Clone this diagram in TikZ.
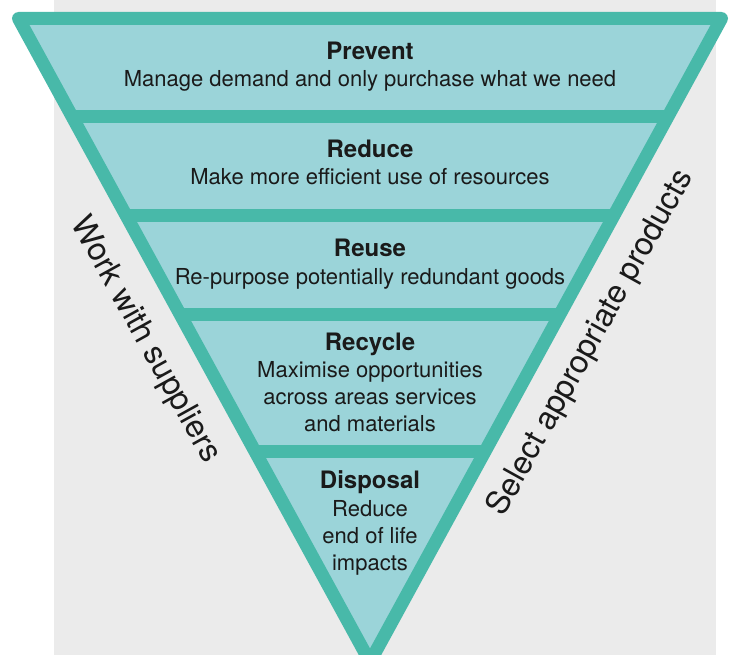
\documentclass[tikz,border=0pt]{standalone}
\usepackage{fontspec}
\setmainfont{TeX Gyre Heros}
\usetikzlibrary{positioning}
\definecolor{edgeteal}{HTML}{48B9A9}
\definecolor{fillteal}{HTML}{9BD4D9}
\definecolor{backgray}{HTML}{EBEBEB}
\definecolor{inkgray}{HTML}{1A1A1A}
\begin{document}
\begin{tikzpicture}[x=1pt,y=-1pt,
    rim/.style={draw=edgeteal,line width=13pt,line join=round},
    title/.style={anchor=base,inner sep=0pt,text=inkgray,font=\fontsize{24}{27}\selectfont\bfseries},
    body/.style={anchor=base,align=center,inner sep=0pt,text=inkgray,font=\fontsize{22}{27}\selectfont},
    side/.style={inner sep=0pt,text=inkgray,font=\fontsize{32}{36}\selectfont}]
  \useasboundingbox (0,0) rectangle (734,655);
  \fill[backgray] (54,0) rectangle (716,655);
  \coordinate (tl) at (18.5,18.5);
  \coordinate (tr) at (721.5,18.5);
  \coordinate (tip) at (370,662);
  \fill[fillteal] (tl) -- (tr) -- (tip) -- cycle;
  \begin{scope}
    \clip (tl) -- (tr) -- (tip) -- cycle;
    \foreach \y in {116.5,215.5,314,451}
      \draw[edgeteal,line width=13pt] (0,\y) -- (734,\y);
  \end{scope}
  \draw[rim] (tl) -- (tr) -- (tip) -- cycle;
  \node[title] (prevent) at (370,60) {Prevent};
  \node[body] (prevent-txt) at (370,87) {Manage demand and only purchase what we need};
  \node[title] (reduce) at (370,158) {Reduce};
  \node[body] (reduce-txt) at (370,185) {Make more efficient use of resources};
  \node[title] (reuse) at (370,257) {Reuse};
  \node[body] (reuse-txt) at (370,284) {Re-purpose potentially redundant goods};
  \node[title] (recycle) at (370,350) {Recycle};
  \node[body] (recycle-txt) at (370,431) {Maximise opportunities\\across areas services\\and materials};
  \node[title] (disposal) at (370,488) {Disposal};
  \node[body] (disposal-txt) at (370,570) {Reduce\\end of life\\impacts};
  \node[side,rotate=-61] (suppliers) at (145,340) {Work with suppliers};
  \node[side,rotate=61] (products) at (591,343) {Select appropriate products};
\end{tikzpicture}
\end{document}
